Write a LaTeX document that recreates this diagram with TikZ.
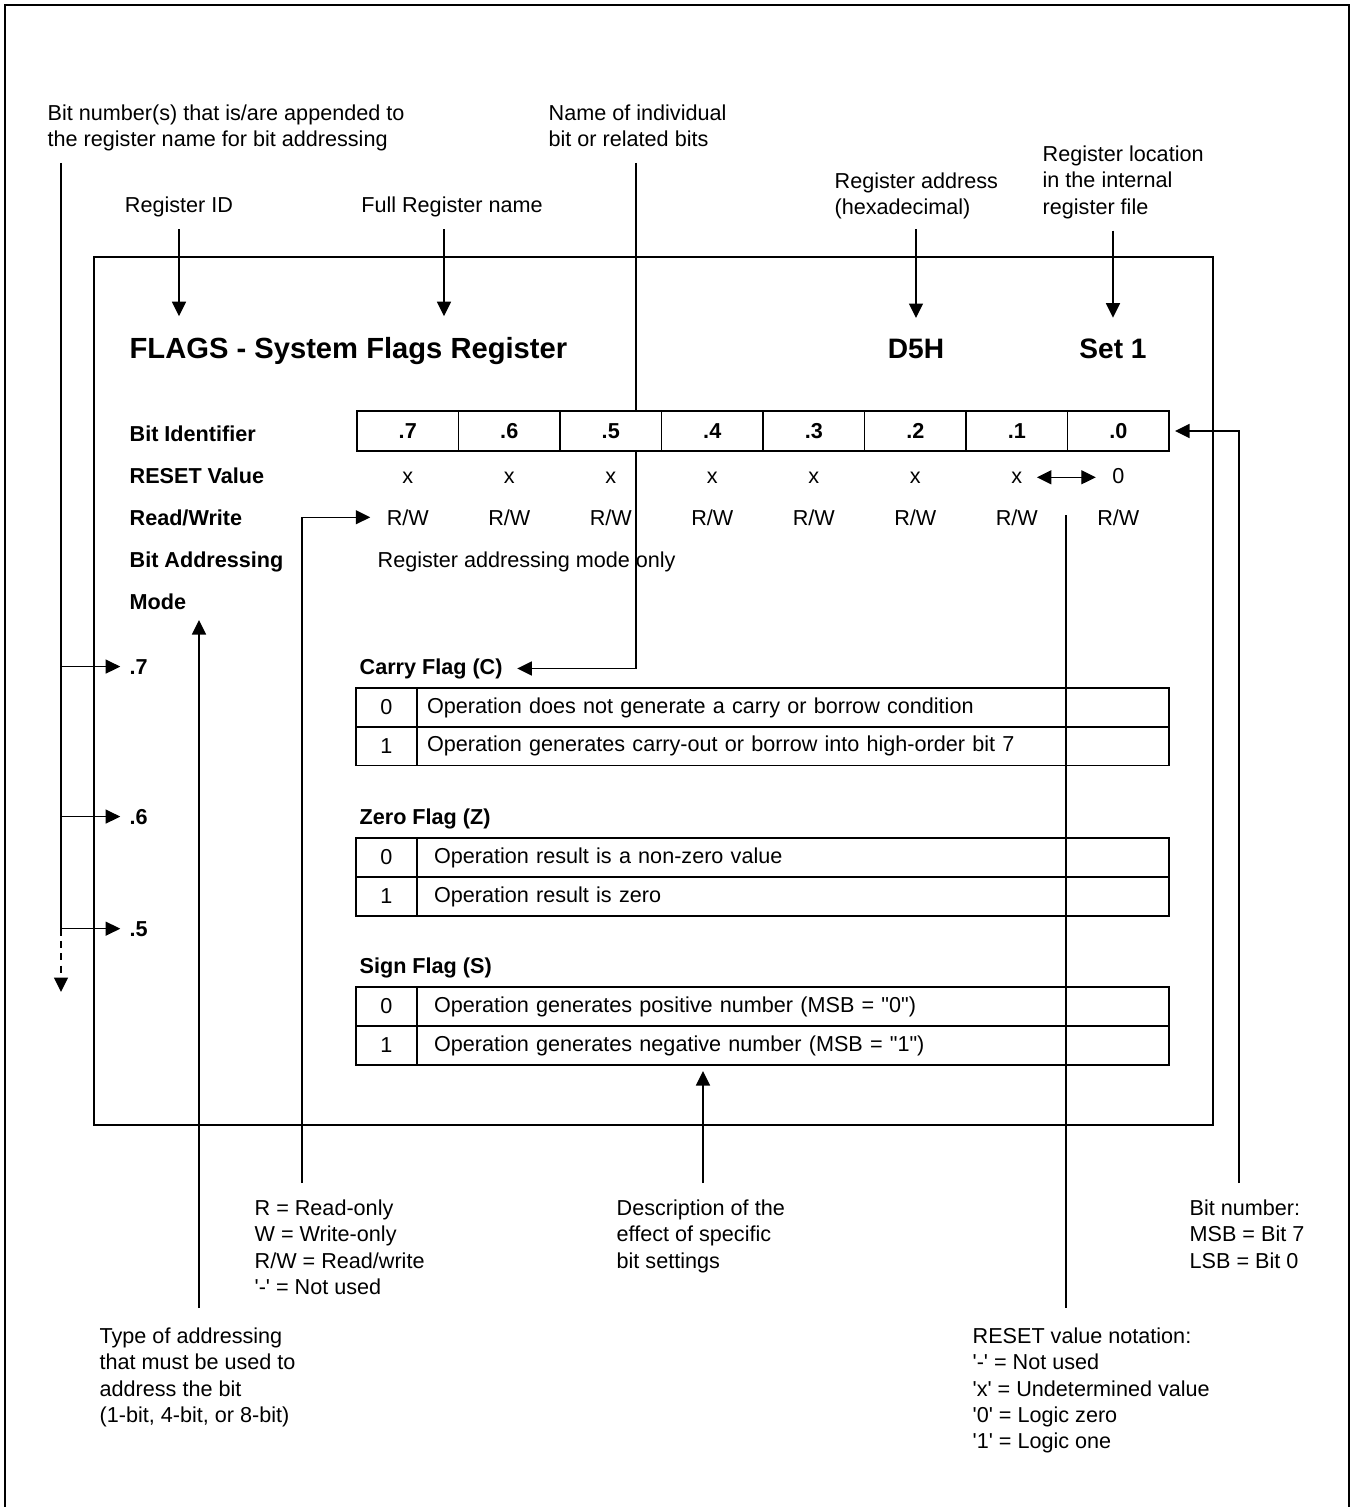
\documentclass[tikz,border=0pt]{standalone}
\usepackage{fontspec}
\setmainfont{Liberation Sans}
\usetikzlibrary{positioning,arrows.meta}
\newcommand\sqt{\XeTeXglyph\XeTeXcharglyph"27\relax}
\newcommand\dqt{\XeTeXglyph\XeTeXcharglyph"22\relax}
\tikzset{
  >={Triangle[length=0.29cm,width=0.28cm]},
  txt/.style={inner sep=0pt,font=\fontsize{12.3}{15}\selectfont},
  note/.style={txt,align=left,anchor=north west},
  bold/.style={inner sep=0pt,font=\fontsize{12.3}{15}\selectfont\bfseries},
  big/.style={inner sep=0pt,font=\fontsize{16}{19}\selectfont\bfseries},
  arr/.style={->,line width=0.75pt},
  dbl/.style={<->,line width=0.75pt},
  bitcell/.style={draw,line width=0.9pt,minimum width=2.03cm,minimum height=0.8cm,inner sep=0pt,font=\fontsize{12.3}{15}\selectfont\bfseries},
  valcell/.style={draw,line width=0.9pt,minimum width=1.22cm,minimum height=0.78cm,inner sep=0pt,font=\fontsize{12.3}{15}\selectfont},
  desccell/.style 2 args={draw,line width=0.9pt,minimum height=0.78cm,inner ysep=0pt,inner xsep=#1,text width=#2,align=left,font=\fontsize{12.3}{15}\selectfont},
}

\begin{document}
\begin{tikzpicture}[x=0.02cm,y=-0.02cm,line width=0.75pt]
\useasboundingbox (0,0) rectangle (1352,1507);
\draw[line width=1.6pt] (5,1507) -- (5,5) -- (1349,5) -- (1349,1507);
\draw[line width=1.1pt] (94,257) rectangle (1213,1125);

\coordinate (bnTop) at (61,163);
\coordinate (bnTip) at (61,992);
\coordinate (nmTop) at (636,163);
\coordinate (modeTip) at (199,620);
\coordinate (rwCol) at (302,517);
\coordinate (descCol) at (703,1100);
\coordinate (rstTop) at (1066,515);
\coordinate (bitCol) at (1239,431);

\node[note] (bnTxt) at (47,104) {Bit number(s) that is/are appended to\\the register name for bit addressing};
\node[note] (nameTxt) at (548,104) {Name of individual\\bit or related bits};
\node[note] (addrHex) at (834,172) {Register address\\(hexadecimal)};
\node[note] (locTxt) at (1042,145) {Register location\\in the internal\\register file};
\node[txt,anchor=base] (regid) at (179,213) {Register ID};
\node[txt,anchor=base] (fullname) at (452,213) {Full Register name};

\node[big,font=\fontsize{16.6}{19}\selectfont\bfseries,anchor=base west] (title) at (129,358) {FLAGS - System Flags Register};
\node[big,anchor=base] (d5h) at (916,358) {D5H};
\node[big,anchor=base] (set1) at (1113,358) {Set 1};

\node[bold,anchor=base west] (lbBitId) at (129,441) {Bit Identifier};
\node[bold,anchor=base west] (lbReset) at (129,483) {RESET Value};
\node[bold,anchor=base west] (lbRw) at (129,525) {Read/Write};
\node[bold,anchor=base west] (lbAddr) at (129,567) {Bit Addressing};
\node[bold,anchor=base west] (lbMode) at (129,609) {Mode};

\foreach \n [count=\i from 0] in {7,...,0}{
  \node[bitcell] (b\n) at (407.75+101.5*\i,431) {.\n};
  \node[txt,anchor=base] (rw\n) at (407.75+101.5*\i,525) {R/W};
}
\foreach \n [count=\i from 0] in {7,...,1}
  \node[txt,anchor=base] (x\n) at (407.75+101.5*\i,483) {x};
\node[txt,anchor=base] (x0) at (1118.25,483) {0};
\node[txt,anchor=base west] (addrTxt) at (377,567) {Register addressing mode only};

\node[bold,anchor=base west] (p7) at (129,674) {.7};
\node[bold,anchor=base west] (p6) at (129,824) {.6};
\node[bold,anchor=base west] (p5) at (129,936) {.5};

\node[bold,anchor=base west] (carry) at (359,674) {Carry Flag (C)};
\node[valcell] (c0) at (386.5,707.5) {0};
\node[desccell={0.2cm}{14.64cm}] (c0d) at (793,707.5) {Operation does not generate a carry or borrow condition};
\node[valcell] (c1) at (386.5,746) {1};
\node[desccell={0.2cm}{14.64cm}] (c1d) at (793,746) {Operation generates carry-out or borrow into high-order bit 7};

\node[bold,anchor=base west] (zero) at (359,824) {Zero Flag (Z)};
\node[valcell] (z0) at (386.5,857.5) {0};
\node[desccell={0.34cm}{14.36cm}] (z0d) at (793,857.5) {Operation result is a non-zero value};
\node[valcell] (z1) at (386.5,896.5) {1};
\node[desccell={0.34cm}{14.36cm}] (z1d) at (793,896.5) {Operation result is zero};

\node[bold,anchor=base west] (sign) at (359,973) {Sign Flag (S)};
\node[valcell] (s0) at (386.5,1006.5) {0};
\node[desccell={0.34cm}{14.36cm}] (s0d) at (793,1006.5) {Operation generates positive number (MSB = \dqt0\dqt)};
\node[valcell] (s1) at (386.5,1045.5) {1};
\node[desccell={0.34cm}{14.36cm}] (s1d) at (793,1045.5) {Operation generates negative number (MSB = \dqt1\dqt)};

\node[note] (rwNote) at (254,1199) {R = Read-only\\W = Write-only\\R/W = Read/write\\\sqt-\sqt{} = Not used};
\node[note] (descNote) at (616,1199) {Description of the\\effect of specific\\bit settings};
\node[note] (bitNote) at (1189,1199) {Bit number:\\MSB = Bit 7\\LSB = Bit 0};
\node[note] (typeNote) at (99,1327) {Type of addressing\\that must be used to\\address the bit\\(1-bit, 4-bit, or 8-bit)};
\node[note] (rstNote) at (972,1327) {RESET value notation:\\\sqt-\sqt{} = Not used\\\sqt x\sqt{} = Undetermined value\\\sqt0\sqt{} = Logic zero\\\sqt1\sqt{} = Logic one};

\draw[arr,shorten <=0.22cm,shorten >=0.4cm] (regid.south) -- (regid.south |- title.north);
\draw[arr,shorten <=0.22cm,shorten >=0.4cm] ([xshift=-0.16cm]fullname.south) -- ([xshift=-0.16cm]fullname.south |- title.north);
\draw[arr,shorten <=0.19cm,shorten >=0.4cm] (addrHex.south -| d5h.north) -- (d5h.north);
\draw[arr,shorten <=0.23cm,shorten >=0.4cm] (locTxt.south -| set1.north) -- (set1.north);

\draw (bnTop) -- (bnTop |- p5.west);
\draw[arr,dash pattern=on 4pt off 3pt] (bnTop |- p5.west) -- (bnTip);
\draw[arr,shorten >=5pt] (bnTop |- p7.west) -- (p7.west);
\draw[arr,shorten >=5pt] (bnTop |- p6.west) -- (p6.west);
\draw[arr,shorten >=5pt] (bnTop |- p5.west) -- (p5.west);

\draw (nmTop) -- (nmTop |- b5.north);
\draw[arr,shorten >=8pt] (nmTop |- b5.south) |- (carry.east);

\draw[dbl,shorten <=8pt,shorten >=9pt] (x1.east) -- (x1.east -| x0.west);

\draw[arr,shorten <=0.32cm,shorten >=9pt] (rwNote.north -| rwCol) |- (rw7.west);
\draw[arr,shorten <=0.38cm] (modeTip |- typeNote.north) -- (modeTip);
\draw[arr,shorten <=0.32cm,shorten >=3pt] (descNote.north -| descCol) -- (descCol |- s1d.south);
\draw[shorten >=0.38cm] (rstTop) -- (rstTop |- rstNote.north);
\draw[arr,shorten <=0.32cm,shorten >=3pt] (bitNote.north -| bitCol) |- (b0.east);
\end{tikzpicture}
\end{document}
